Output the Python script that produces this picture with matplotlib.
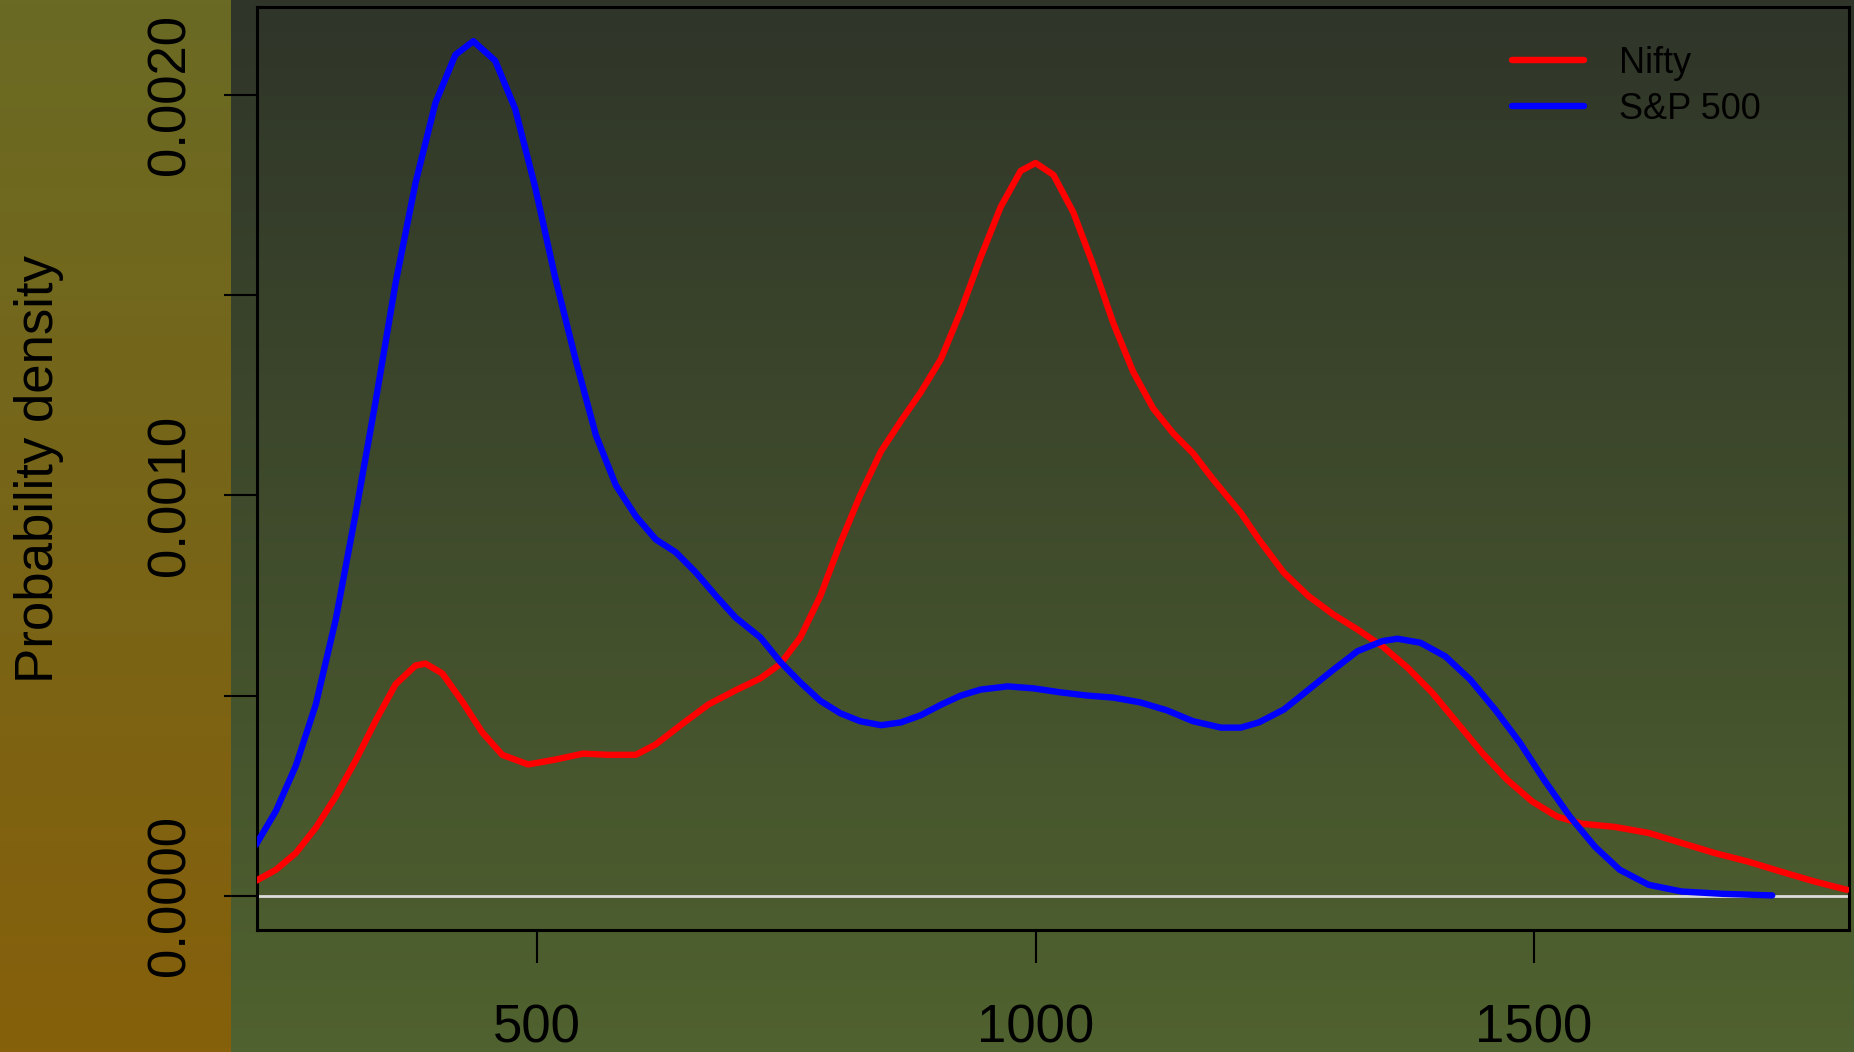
import numpy as np
import matplotlib
matplotlib.use("Agg")
import matplotlib.pyplot as plt
from matplotlib.colors import LinearSegmentedColormap

plt.rcParams['font.family'] = ['Liberation Sans', 'DejaVu Sans']

# density curves
nifty_x = [218, 238, 258, 278, 298, 318, 338, 358, 378, 388, 405, 425, 445, 465, 491,
           518, 546, 572, 599, 619, 646, 672, 699, 724, 744, 764, 784, 804, 824, 845,
           865, 885, 905, 925, 945, 965, 985, 1000, 1018, 1038, 1058, 1078, 1098, 1118,
           1138, 1158, 1178, 1206, 1224, 1249, 1274, 1299, 1323, 1348, 1373, 1398, 1423,
           1448, 1473, 1498, 1523, 1548, 1581, 1615, 1648, 1681, 1714, 1747, 1781, 1814]
nifty_y = [0.0000375, 0.000065, 0.000107, 0.00017, 0.000248, 0.000338, 0.000437, 0.000528,
           0.000575, 0.00058, 0.000555, 0.000485, 0.000408, 0.000352, 0.000328, 0.00034,
           0.000355, 0.000352, 0.000352, 0.000378, 0.00043, 0.000478, 0.000513, 0.000543,
           0.000579, 0.000645, 0.000748, 0.00088, 0.001, 0.00111, 0.001186, 0.001258,
           0.00134, 0.00146, 0.001595, 0.00172, 0.00181, 0.00183, 0.0018, 0.001706,
           0.001574, 0.00143, 0.001308, 0.001217, 0.001155, 0.001105, 0.00104, 0.000956,
           0.00089, 0.000807, 0.000748, 0.000702, 0.000665, 0.000623, 0.00057, 0.000507,
           0.000432, 0.000357, 0.00029, 0.000236, 0.000198, 0.00018, 0.000172, 0.000157,
           0.000132, 0.000107, 0.000086, 0.000061, 0.000036, 0.000015]

sp_x = [218, 238, 258, 278, 298, 318, 338, 358, 378, 398, 418, 436, 458, 478, 498, 518,
        539, 559, 579, 599, 619, 639, 659, 679, 699, 724, 744, 764, 784, 804, 824, 845,
        865, 885, 905, 925, 945, 972, 998, 1025, 1052, 1078, 1105, 1132, 1158, 1186,
        1206, 1224, 1249, 1274, 1299, 1323, 1348, 1363, 1386, 1411, 1436, 1461, 1486,
        1510, 1536, 1561, 1586, 1615, 1648, 1689, 1739]
sp_y = [0.0001275, 0.000212, 0.000325, 0.000478, 0.00069, 0.000955, 0.001235, 0.00153,
        0.00178, 0.00198, 0.0021, 0.002134, 0.002085, 0.001965, 0.00177, 0.001545,
        0.001335, 0.00115, 0.001025, 0.000948, 0.00089, 0.000858, 0.000808, 0.00075,
        0.000695, 0.000645, 0.000584, 0.000533, 0.000487, 0.000456, 0.000436, 0.000426,
        0.000433, 0.000451, 0.000477, 0.0005, 0.000515, 0.000523, 0.000518, 0.000508,
        0.0005, 0.000495, 0.000483, 0.000463, 0.000436, 0.00042, 0.00042, 0.000433,
        0.000465, 0.000515, 0.000565, 0.000611, 0.000636, 0.000642, 0.000632, 0.000598,
        0.00054, 0.000465, 0.000382, 0.00029, 0.000198, 0.000123, 0.000065, 0.0000275,
        0.0000108, 0.000005, 0.000001]

series_names = ['Nifty', 'S&P 500']
yticks = [0.0, 0.0005, 0.0010, 0.0015, 0.0020]
ytick_labels = ['0.0000', '', '0.0010', '', '0.0020']
xticks = [500, 1000, 1500]

W, H = 1854, 1052
fig = plt.figure(figsize=(W / 100, H / 100), dpi=100)

# background gradients (top colour first)
bg = fig.add_axes([0, 0, 1, 1], zorder=-10)
bg.set_axis_off()
grad = np.linspace(0, 1, 256).reshape(-1, 1)
strip = 231 / W
main_cmap = LinearSegmentedColormap.from_list('m', ['#2f3529', '#50622f'])
left_cmap = LinearSegmentedColormap.from_list('l', ['#6a6a24', '#86600b'])
bg.imshow(grad, cmap=main_cmap, aspect='auto', extent=[strip, 1, 0, 1], origin='upper')
bg.imshow(grad, cmap=left_cmap, aspect='auto', extent=[0, strip, 0, 1], origin='upper')
bg.set_xlim(0, 1)
bg.set_ylim(0, 1)

ax = fig.add_axes([257 / W, 1 - 930 / H, 1592 / W, 923 / H])
ax.patch.set_alpha(0)

ax.axhline(0, color='#dcdcdc', lw=2, zorder=1)
ax.plot(nifty_x, nifty_y, color='#ff0000', lw=4.6, solid_capstyle='round',
        solid_joinstyle='round', label=series_names[0], zorder=3)
ax.plot(sp_x, sp_y, color='#0000ff', lw=4.6, solid_capstyle='round',
        solid_joinstyle='round', label=series_names[1], zorder=3)

ax.set_xlim(219, 1816)
ymax = max(sp_y)
ax.set_ylim(-0.04 * ymax, 1.04 * ymax)

ax.set_xticks(xticks)
ax.set_xticklabels([str(v) for v in xticks])
ax.set_yticks(yticks)
ax.set_yticklabels(ytick_labels, rotation=90, va='center')
ax.tick_params(axis='both', length=24, width=1.5, labelsize=38, color='black')
ax.tick_params(axis='y', pad=20)
ax.tick_params(axis='x', pad=29)
for s in ax.spines.values():
    s.set_linewidth(2.2)
    s.set_color('black')

fig.text(39 / W, 1 - 469 / H, 'Probability density', rotation=90,
         ha='center', va='center', fontsize=38)

leg = ax.legend(loc='upper left', bbox_to_anchor=(1512 / W, 1 - 46 / H),
                bbox_transform=fig.transFigure, frameon=False, fontsize=26,
                handlelength=2.0, handletextpad=0.95, labelspacing=0.3,
                borderpad=0, borderaxespad=0)
for t in leg.get_texts():
    t.set_color('black')

fig.savefig('out.png', dpi=100)
